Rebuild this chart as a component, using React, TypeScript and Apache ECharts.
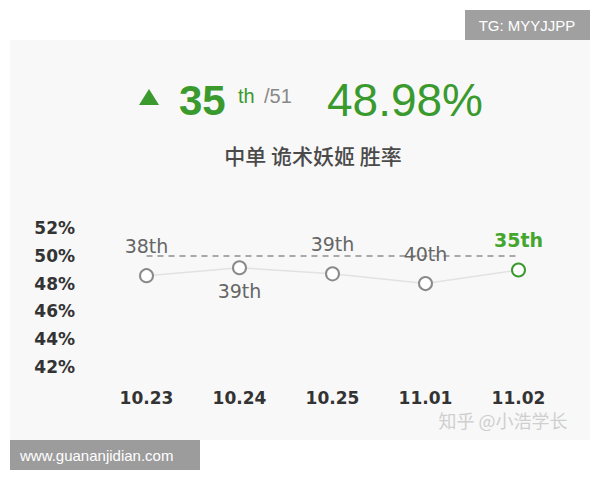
import React, { useEffect, useRef } from "react";
import * as echarts from "echarts";

// ---- data ----
const dates = ["10.23", "10.24", "10.25", "11.01", "11.02"];
const winRates = [48.57, 49.14, 48.7, 48.0, 48.98];
const ranks = [38, 39, 39, 40, 35];
const totalHeroes = 51;
const currentRank = 35;
const currentWinRate = "48.98%";
const referenceRate = 50;
const yTicks = [42, 44, 46, 48, 50, 52];

// label placement (style, not data)
const labelPlacement = ["top", "bottom", "top", "top", "top"];

const GREEN = "#3a9a2e";

export default function App() {
  const ref = useRef<HTMLDivElement>(null);
  useEffect(() => {
    document.body.style.margin = "0";
    const chart = echarts.init(ref.current!, null, { renderer: "svg" });
    const last = dates.length - 1;
    const option: any = {
      animation: false,
      backgroundColor: "#ffffff",
      grid: { left: 100, right: 35, top: 228, bottom: 113, containLabel: false },
      xAxis: {
        type: "category",
        data: dates,
        boundaryGap: true,
        axisLine: { show: false },
        axisTick: { show: false },
        axisLabel: {
          margin: 22,
          fontFamily: "DejaVu Sans",
          fontWeight: "bold",
          fontSize: 17,
          color: "#333",
        },
      },
      yAxis: {
        type: "value",
        min: yTicks[0],
        max: yTicks[yTicks.length - 1],
        interval: 2,
        axisLine: { show: false },
        axisTick: { show: false },
        splitLine: { show: false },
        axisLabel: {
          formatter: "{value}%",
          margin: 25,
          fontFamily: "DejaVu Sans",
          fontWeight: "bold",
          fontSize: 17,
          color: "#333",
        },
      },
      series: [
        {
          type: "line",
          z: 5,
          symbol: "emptyCircle",
          symbolSize: 13,
          lineStyle: { color: "#e2e2e2", width: 1.5 },
          itemStyle: { color: "#8a8a8a", borderColor: "#8a8a8a", borderWidth: 2.5 },
          data: winRates.map((v, i) => ({
            value: v,
            itemStyle:
              i === last
                ? { color: GREEN, borderColor: GREEN, borderWidth: 2.5 }
                : undefined,
            label: {
              show: true,
              position: labelPlacement[i],
              distance: labelPlacement[i] === "top" ? 13 : 6,
              formatter: ranks[i] + "th",
              fontFamily: "DejaVu Sans",
              fontSize: 19,
              fontWeight: i === last ? "bold" : "normal",
              color: i === last ? "#44a62c" : "#666",
            },
          })),
          markLine: {
            silent: true,
            symbol: "none",
            label: { show: false },
            lineStyle: { type: [6, 5], color: "#a8a8a8", width: 2 },
            data: [
              [
                { coord: [0, referenceRate] },
                { coord: [last, referenceRate] },
              ],
            ],
          },
        },
      ],
      graphic: [
        {
          type: "rect",
          z: -10,
          silent: true,
          shape: { x: 10, y: 40, width: 580, height: 400 },
          style: { fill: "#f8f8f8" },
        },
        {
          type: "rect",
          z: 10,
          shape: { x: 465, y: 10, width: 125, height: 30 },
          style: { fill: "#a0a0a0" },
        },
        {
          type: "text",
          z: 11,
          x: 527,
          y: 25,
          style: {
            text: "TG: MYYJJPP",
            fill: "#ffffff",
            fontFamily: "Liberation Sans",
            fontSize: 15,
            align: "center",
            verticalAlign: "middle",
          },
        },
        {
          type: "rect",
          z: 10,
          shape: { x: 10, y: 440, width: 190, height: 30 },
          style: { fill: "#9c9c9c" },
        },
        {
          type: "text",
          z: 11,
          x: 20,
          y: 455,
          style: {
            text: "www.guananjidian.com",
            fill: "#ffffff",
            fontFamily: "Liberation Sans",
            fontSize: 15,
            verticalAlign: "middle",
          },
        },
        {
          type: "polygon",
          z: 10,
          shape: { points: [[149, 89], [139, 105], [159, 105]] },
          style: { fill: GREEN },
        },
        {
          type: "text",
          z: 10,
          x: 179,
          y: 100,
          style: {
            text: String(currentRank),
            fill: GREEN,
            fontFamily: "Liberation Sans",
            fontWeight: "bold",
            fontSize: 42,
            verticalAlign: "middle",
          },
        },
        {
          type: "text",
          z: 10,
          x: 238,
          y: 96,
          style: {
            text: "th",
            fill: GREEN,
            fontFamily: "Liberation Sans",
            fontSize: 20,
            verticalAlign: "middle",
          },
        },
        {
          type: "text",
          z: 10,
          x: 264,
          y: 96,
          style: {
            text: "/" + totalHeroes,
            fill: "#888",
            fontFamily: "Liberation Sans",
            fontSize: 20,
            verticalAlign: "middle",
          },
        },
        {
          type: "text",
          z: 10,
          x: 327,
          y: 100,
          style: {
            text: currentWinRate,
            fill: GREEN,
            fontFamily: "Liberation Sans",
            fontSize: 46,
            verticalAlign: "middle",
          },
        },
        {
          type: "text",
          z: 10,
          x: 313,
          y: 155,
          style: {
            text: "中单 诡术妖姬 胜率",
            fill: "#4a4a4a",
            fontFamily: "Noto Sans CJK SC",
            fontSize: 21,
            fontWeight: 500,
            align: "center",
            verticalAlign: "middle",
          },
        },
        {
          type: "text",
          z: 10,
          x: 503,
          y: 420,
          style: {
            text: "知乎 @小浩学长",
            fill: "#cfcfcf",
            fontFamily: "Noto Sans CJK SC",
            fontSize: 18,
            align: "center",
            verticalAlign: "middle",
          },
        },
      ],
    };
    chart.setOption(option);
    return () => chart.dispose();
  }, []);
  return <div ref={ref} style={{ width: 600, height: 480 }} />;
}
